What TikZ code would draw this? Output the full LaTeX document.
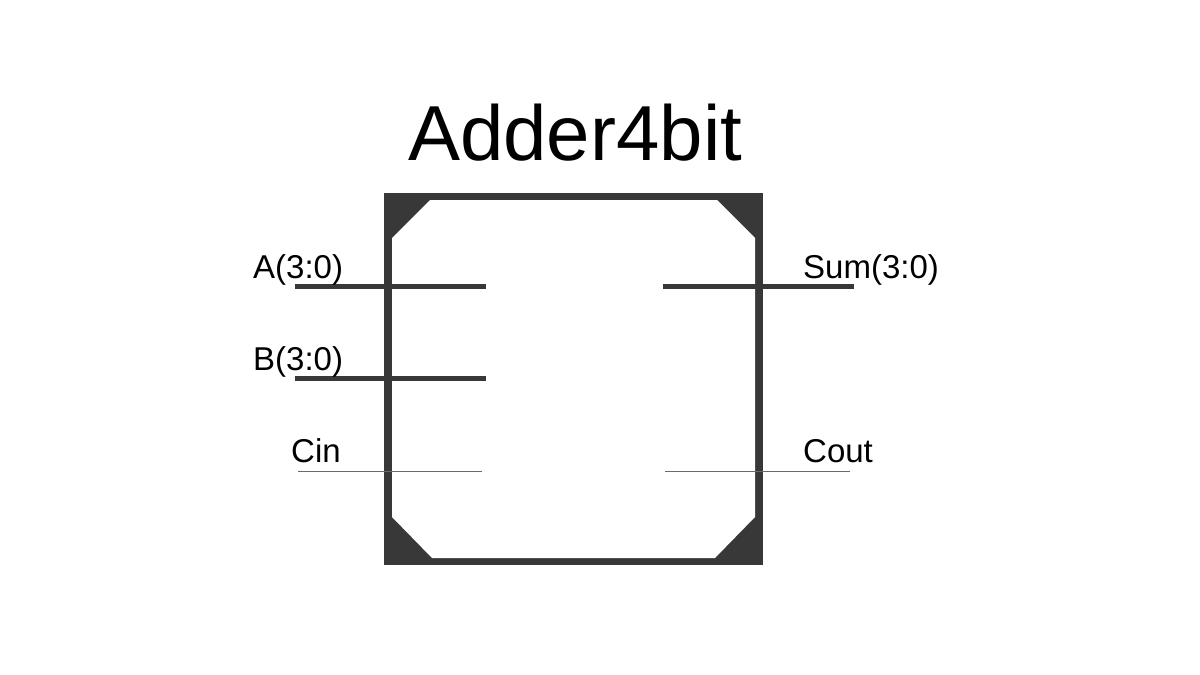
\documentclass[tikz,border=0pt]{standalone}
\usepackage{fontspec}
\setmainfont{Liberation Sans}
\definecolor{boxgray}{HTML}{383838}
\definecolor{thingray}{HTML}{6a6a6a}
\begin{document}
\begin{tikzpicture}[x=1pt,y=-1pt,
  lbl/.style={anchor=base west,inner sep=0pt,font=\fontsize{33}{33}\selectfont},
  ttl/.style={anchor=base west,inner sep=0pt,font=\fontsize{78}{78}\selectfont},
  buspin/.style={draw=boxgray,line width=5pt},
  bitpin/.style={draw=thingray,line width=1pt}]
\useasboundingbox (0,0) rectangle (1200,675);
% block body
\fill[boxgray] (384,193) rectangle (763,565);
\fill[white] (392,238) -- (430,200) -- (717,200) -- (755,238) -- (755,517) -- (715,558) -- (432,558) -- (392,517) -- cycle;
% title
\node[ttl] (title) at (408,160) {Adder4bit};
% pin coordinates
\coordinate (a0) at (295,286); \coordinate (a1) at (486,286);
\coordinate (b0) at (295,378); \coordinate (b1) at (486,378);
\coordinate (c0) at (298,471); \coordinate (c1) at (482,471);
\coordinate (s0) at (663,286); \coordinate (s1) at (854,286);
\coordinate (o0) at (665,471); \coordinate (o1) at (850,471);
\draw[buspin] (a0) -- (a1);
\draw[buspin] (b0) -- (b1);
\draw[bitpin] (c0) -- (c1);
\draw[buspin] (s0) -- (s1);
\draw[bitpin] (o0) -- (o1);
% labels
\node[lbl] (la) at (253,278) {A(3:0)};
\node[lbl] (lb) at (253,370) {B(3:0)};
\node[lbl] (lc) at (291,462) {Cin};
\node[lbl] (ls) at (803,278) {Sum(3:0)};
\node[lbl] (lo) at (803,462) {Cout};
\end{tikzpicture}
\end{document}
